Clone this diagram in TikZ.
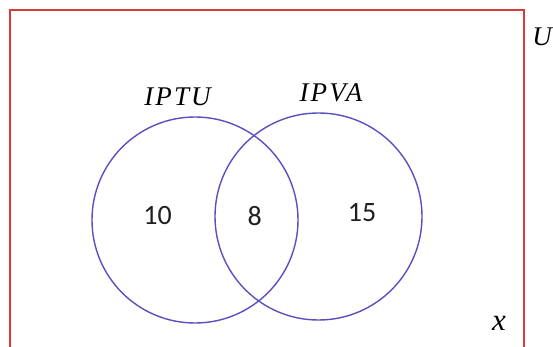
\documentclass[tikz,border=0pt]{standalone}
\usepackage{fontspec}
\newfontfamily\numfont{Carlito}
\newfontfamily\labfont[LetterSpace=8]{Liberation Serif}
\definecolor{setblue}{HTML}{5A4FC0}
\definecolor{univred}{HTML}{D93A3C}
\begin{document}
\begin{tikzpicture}[x=1pt,y=-1pt,
  setcircle/.style={circle, draw=setblue, line width=1.4pt, minimum size=206pt, inner sep=0pt},
  numlabel/.style={inner sep=0pt, text=black!88, font=\numfont\fontsize{28}{30}\selectfont},
  setlabel/.style={inner sep=0pt, font=\labfont\itshape\fontsize{27}{30}\selectfont}]
\useasboundingbox (0,0) rectangle (553,347);
\clip (0,0) rectangle (553,347);
\coordinate (ul) at (10,10);
\coordinate (lr) at (524,370);
\draw[univred, line width=1.8pt] (ul) rectangle (lr);
\node[setcircle] (A) at (195,220) {};
\node[setcircle, minimum size=207pt] (B) at (318.5,216.5) {};
\node[setlabel] (la) at (177.5,97) {IPTU};
\node[setlabel] (lb) at (331,93) {IPVA};
\node[setlabel, font=\itshape\fontsize{27}{30}\selectfont\fontspec{Liberation Serif}, anchor=east] (lu) at (552,37) {U};
\node[setlabel, font=\labfont\itshape\fontsize{31}{32}\selectfont] (lx) at (499,323) {x};
\node[numlabel] (n1) at (157.5,216) {10};
\node[numlabel] (n2) at (254.7,216) {8};
\node[numlabel] (n3) at (362,213) {15};
\end{tikzpicture}
\end{document}
